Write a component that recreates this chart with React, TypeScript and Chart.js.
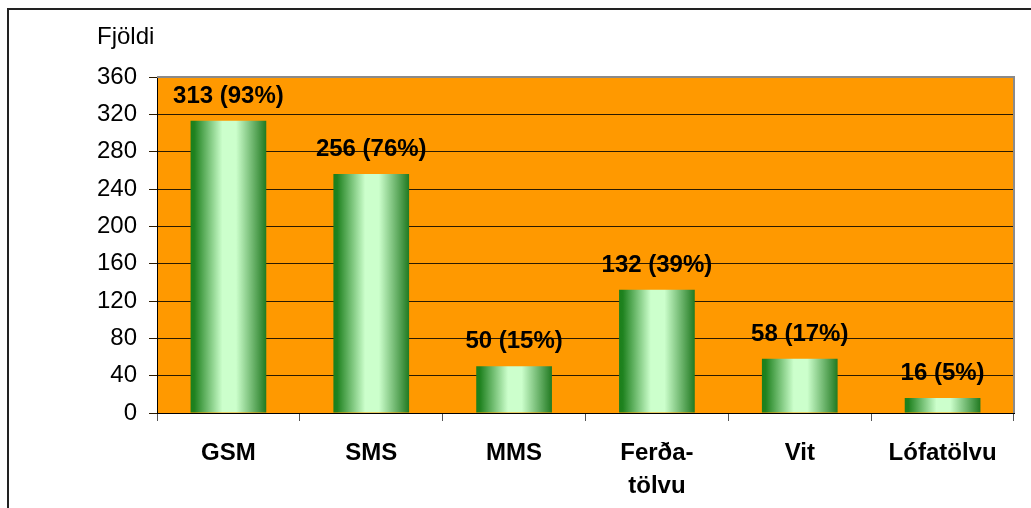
import React, { useEffect, useRef } from "react";
import { Chart, registerables } from "chart.js";

Chart.register(...registerables);

const categories: (string | string[])[] = ["GSM", "SMS", "MMS", ["Ferða-", "tölvu"], "Vit", "Lófatölvu"];
const counts: number[] = [313, 256, 50, 132, 58, 16];
const percents: number[] = [93, 76, 15, 39, 17, 5];
const yTicks = { min: 0, max: 360, step: 40 };
const axisTitle = "Fjöldi";

const FONT = "'Liberation Sans', Arial, sans-serif";

export default function App() {
  const ref = useRef<HTMLCanvasElement>(null);

  useEffect(() => {
    const canvas = ref.current!;
    const plotBg = {
      id: "plotBg",
      beforeDraw(chart: any) {
        const { ctx, chartArea: a } = chart;
        ctx.save();
        ctx.fillStyle = "#FF9900";
        ctx.fillRect(a.left, a.top, a.right - a.left, a.bottom - a.top);
        ctx.restore();
      },
      afterDatasetsDraw(chart: any) {
        const { ctx, chartArea: a } = chart;
        ctx.save();
        ctx.strokeStyle = "#8a8a8a";
        ctx.lineWidth = 2;
        ctx.beginPath();
        ctx.moveTo(a.left, a.top);
        ctx.lineTo(a.right, a.top);
        ctx.lineTo(a.right, a.bottom);
        ctx.stroke();
        // data labels
        const meta = chart.getDatasetMeta(0);
        ctx.fillStyle = "#000";
        ctx.font = `bold 24px ${FONT}`;
        ctx.textAlign = "center";
        ctx.textBaseline = "alphabetic";
        meta.data.forEach((el: any, i: number) => {
          ctx.fillText(`${counts[i]} (${percents[i]}%)`, el.x, el.y - 18);
        });
        // axis title
        ctx.font = `24px ${FONT}`;
        ctx.textAlign = "left";
        ctx.fillText(axisTitle, a.left - 60, a.top - 33);
        ctx.restore();
      },
    };

    const chart = new Chart(canvas, {
      type: "bar",
      data: {
        labels: categories,
        datasets: [
          {
            data: counts,
            borderWidth: 0,
            backgroundColor: (c: any) => {
              const ch = c.chart;
              const xs = ch.scales && ch.scales.x;
              if (!xs || c.dataIndex === undefined) return "#8fd88f";
              const cx = xs.getPixelForValue(c.dataIndex);
              const w = (xs.width / categories.length) * 0.53;
              if (!isFinite(cx) || !isFinite(w) || w <= 0) return "#8fd88f";
              const g = ch.ctx.createLinearGradient(cx - w / 2, 0, cx + w / 2, 0);
              g.addColorStop(0, "#1b7f1b");
              g.addColorStop(0.05, "#1f821f");
              g.addColorStop(0.42, "#ccffcc");
              g.addColorStop(0.6, "#ccffcc");
              g.addColorStop(1, "#217a21");
              return g;
            },
            barPercentage: 0.53,
            categoryPercentage: 1,
          },
        ],
      },
      options: {
        responsive: false,
        animation: false,
        layout: { padding: { left: 0, top: 67, right: 17, bottom: 0 } },
        plugins: {
          legend: { display: false },
          tooltip: { enabled: false },
          title: { display: false },
        },
        scales: {
          y: {
            min: yTicks.min,
            max: yTicks.max,
            ticks: {
              stepSize: yTicks.step,
              color: "#000",
              font: { family: FONT, size: 24 },
              padding: 12,
            },
            grid: { color: "#2a1a00", lineWidth: 1, tickLength: 8, drawTicks: true },
            border: { color: "#000", width: 1 },
            afterFit: (s: any) => {
              s.width = 148;
            },
          },
          x: {
            ticks: {
              color: "#000",
              font: { family: FONT, size: 24, weight: "bold", lineHeight: 1.38 },
              padding: 16,
              maxRotation: 0,
              autoSkip: false,
            },
            grid: { drawOnChartArea: false, drawTicks: true, tickLength: 8, color: "#555", offset: true },
            border: { color: "#000", width: 1 },
            afterFit: (s: any) => {
              s.height = 95;
            },
          },
        },
      },
      plugins: [plotBg],
    } as any);
    return () => chart.destroy();
  }, []);

  return (
    <div
      style={{
        position: "fixed",
        left: 7,
        top: 8,
        width: 1024,
        height: 500,
        borderLeft: "2px solid #222",
        borderTop: "2px solid #222",
        background: "#fff",
      }}
    >
      <canvas ref={ref} width={1022} height={498} style={{ display: "block" }} />
    </div>
  );
}
